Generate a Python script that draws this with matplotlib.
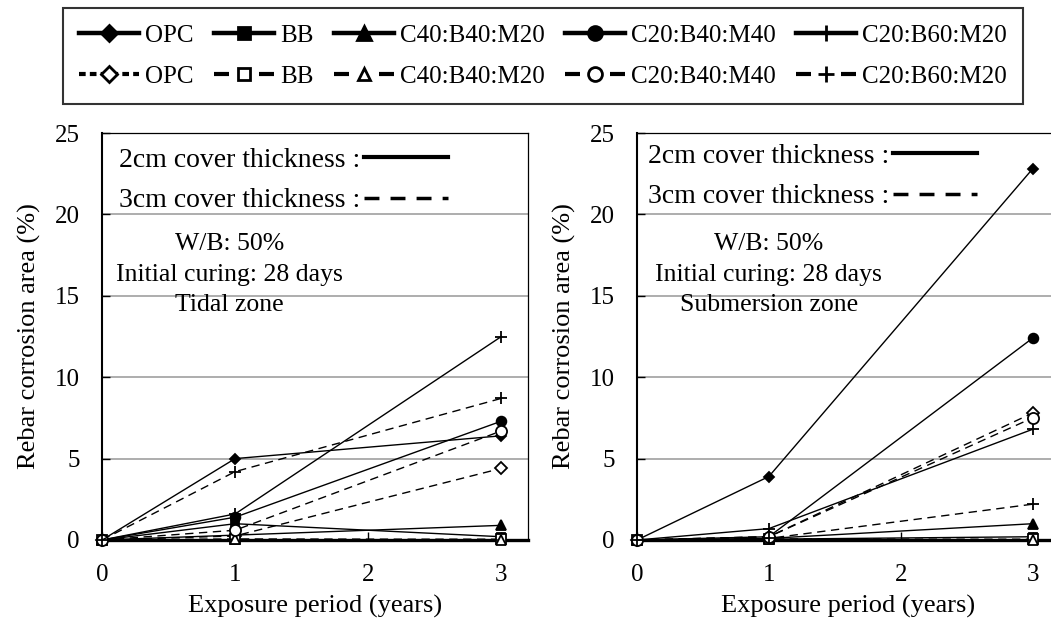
"""
Rebar corrosion area vs. exposure period, tidal and submersion zones.
Two panels, shared figure legend on top.
"""

import matplotlib.pyplot as plt
from matplotlib.lines import Line2D

plt.rcParams["font.family"] = ["Liberation Serif", "DejaVu Serif"]

# ── Data ─────────────────────────────────────────────────────────────────────
YEARS = [0, 1, 3]
MIXES = ["OPC", "BB", "C40:B40:M20", "C20:B40:M40", "C20:B60:M20"]
MARKERS = ["D", "s", "^", "o", "+"]

# tidal zone, 2 cm cover (solid) / 3 cm cover (dashed)
TIDAL_2CM = [
    [0, 5.0, 6.4],
    [0, 1.0, 0.2],
    [0, 0.3, 0.9],
    [0, 1.4, 7.3],
    [0, 1.6, 12.5],
]
TIDAL_3CM = [
    [0, 0.25, 4.4],
    [0, 0.05, 0.05],
    [0, 0.05, 0.0],
    [0, 0.6, 6.7],
    [0, 4.2, 8.7],
]

# submersion zone
SUBM_2CM = [
    [0, 3.9, 22.8],
    [0, 0.05, 0.2],
    [0, 0.1, 1.0],
    [0, 0.2, 12.4],
    [0, 0.7, 6.8],
]
SUBM_3CM = [
    [0, 0.2, 7.8],
    [0, 0.05, 0.05],
    [0, 0.05, 0.0],
    [0, 0.2, 7.5],
    [0, 0.1, 2.2],
]

SOLID_MS = {"D": 5.5, "s": 6, "^": 7, "o": 7, "+": 9}
OPEN_MS = {"D": 6.5, "s": 6.5, "^": 7, "o": 8, "+": 9}
DASH = (0, (6, 4))

W, H = 1051, 623


def px_rect(left, top, width, height):
    return [left / W, 1 - (top + height) / H, width / W, height / H]


def draw_panel(ax, solid, dashed, zone, key_anchor, note_x):
    for vals, m in zip(solid, MARKERS):
        ax.plot(YEARS, vals, color="black", lw=1.0, marker=m,
                ms=SOLID_MS[m], mfc="black", mec="black", mew=1.3,
                clip_on=False, zorder=3)
    for vals, m in zip(dashed, MARKERS):
        ax.plot(YEARS, vals, color="black", lw=1.0, ls=DASH, marker=m,
                ms=OPEN_MS[m], mfc="white", mec="black", mew=1.3,
                clip_on=False, zorder=4)

    ax.set_xlim(0, 3.2)
    ax.set_ylim(0, 25)
    ax.set_xticks([0, 1, 2, 3])
    ax.set_yticks([0, 5, 10, 15, 20, 25])
    ax.yaxis.grid(True, color="#a0a0a0", lw=1.2)
    ax.set_axisbelow(True)
    ax.tick_params(direction="in", length=6, width=1.0, labelsize=18)
    ax.tick_params(axis="x", pad=17)
    ax.tick_params(axis="y", pad=16)

    for side in ("top", "right"):
        ax.spines[side].set_linewidth(0.9)
    ax.spines["bottom"].set_linewidth(2.4)
    ax.spines["left"].set_linewidth(1.5)

    ax.set_xlabel("Exposure period (years)", fontsize=19, labelpad=7)
    ax.set_ylabel("Rebar corrosion area (%)", fontsize=19, labelpad=10)

    # cover thickness key
    cover_keys = [
        Line2D([], [], color="black", lw=3),
        Line2D([], [], color="black", lw=2.5, ls=(0, (4.3, 3.2))),
    ]
    ax.legend(cover_keys, ["2cm cover thickness :", "3cm cover thickness :"],
              loc="upper left", bbox_to_anchor=key_anchor, markerfirst=False,
              frameon=False, fontsize=20, handlelength=3.0,
              handletextpad=0.15, labelspacing=0.55, borderpad=0,
              borderaxespad=0)

    ax.text(note_x, 16.3, f"W/B: 50%\nInitial curing: 28 days\n{zone}",
            ha="center", va="center", fontsize=18.5, linespacing=1.5)


fig = plt.figure(figsize=(W / 100, H / 100), dpi=100)
ax_tidal = fig.add_axes(px_rect(102, 133, 426, 407))
ax_subm = fig.add_axes(px_rect(637, 133, 422, 407))

draw_panel(ax_tidal, TIDAL_2CM, TIDAL_3CM, "Tidal zone", (0.04, 0.965), 0.96)
draw_panel(ax_subm, SUBM_2CM, SUBM_3CM, "Submersion zone", (0.026, 0.975), 1.0)

# ── Shared legend: solid row over dashed row ─────────────────────────────────
handles, labels = [], []
for m, name in zip(MARKERS, MIXES):
    handles.append(Line2D([], [], color="black", lw=3.2, marker=m,
                          ms=SOLID_MS[m] + 3, mfc="black", mec="black",
                          mew=2))
    labels.append(name)
    dash = (0, (1.6, 1.0)) if m == "D" else (0, (3.6, 7.2))
    handles.append(Line2D([], [], color="black", lw=3.0, ls=dash, marker=m,
                          ms=OPEN_MS[m] + 2, mfc="white", mec="black",
                          mew=2))
    labels.append(name)

leg = fig.legend(handles, labels, ncol=5, loc="upper left",
                 bbox_to_anchor=(63 / W, 1 - 8 / H), fontsize=18,
                 handlelength=2.4, handletextpad=0.25, columnspacing=0.8,
                 labelspacing=0.75, borderpad=0.65, borderaxespad=0,
                 frameon=True, fancybox=False, edgecolor="black")
leg.get_frame().set_linewidth(1.5)

fig.savefig("out.png", dpi=100)
